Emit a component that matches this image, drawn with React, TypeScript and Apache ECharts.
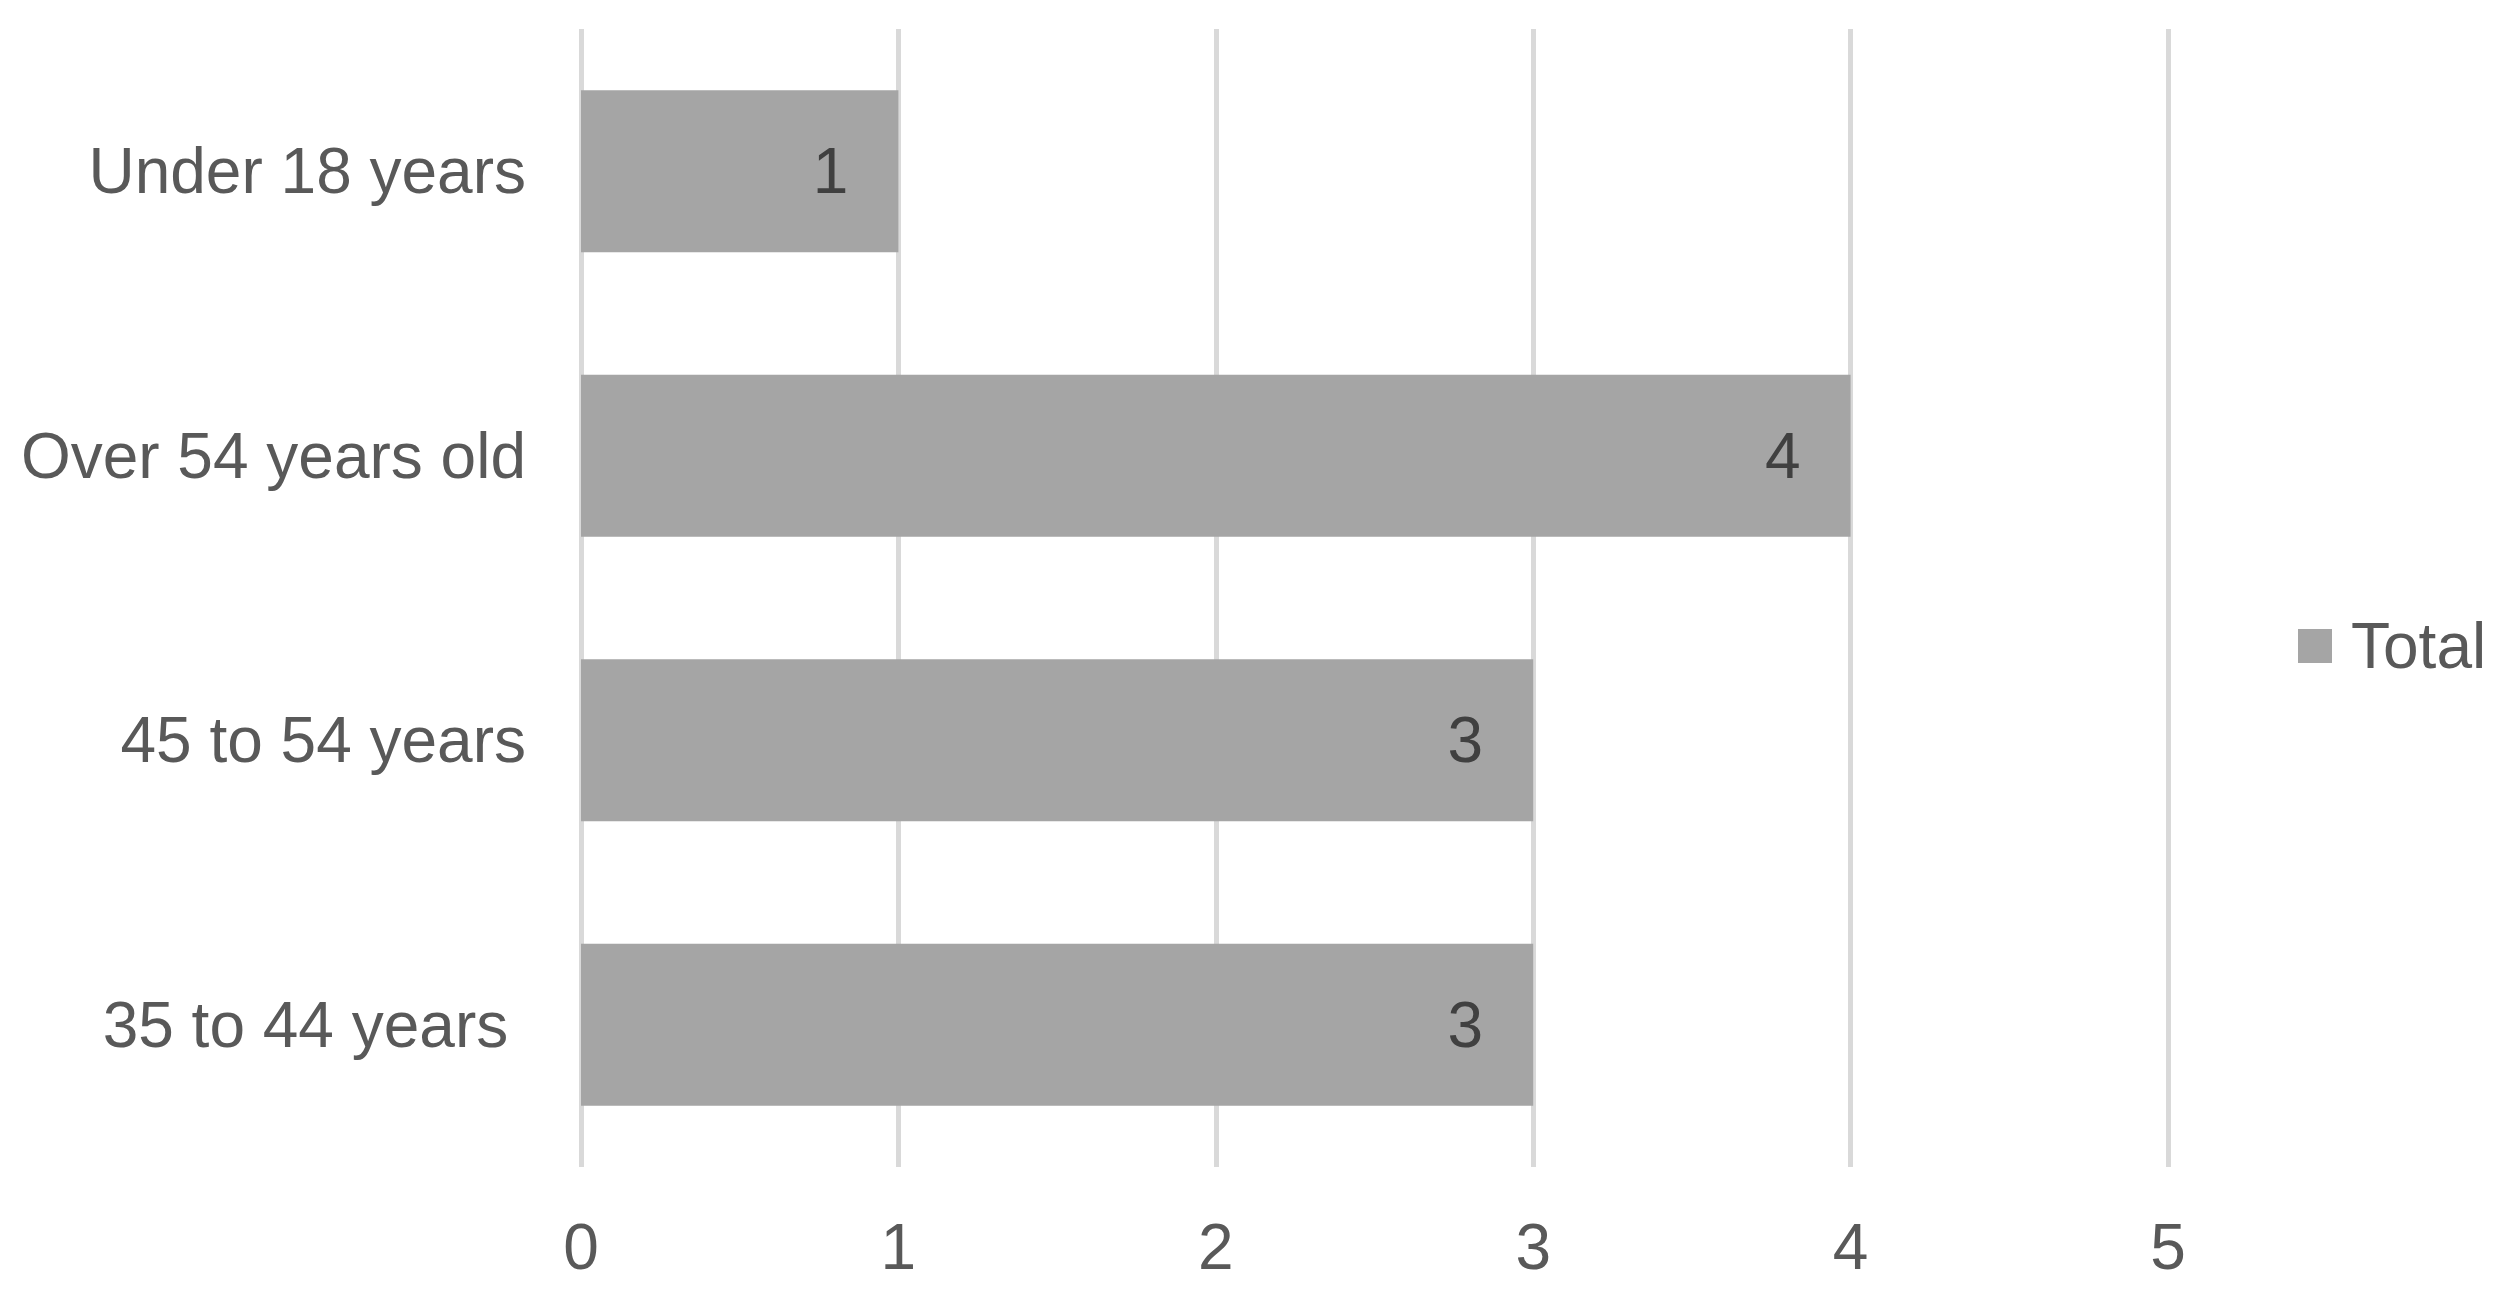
import React, { useEffect, useRef } from "react";
import * as echarts from "echarts";

const categories = ["35 to 44 years ", "45 to 54 years", "Over 54 years old", "Under 18 years"];
const totals = [3, 3, 4, 1];
const xTicks = [0, 1, 2, 3, 4, 5];
const seriesName = "Total";

export default function App() {
  const ref = useRef<HTMLDivElement>(null);
  useEffect(() => {
    if (!ref.current) return;
    const chart = echarts.init(ref.current, undefined, { renderer: "svg" });
    const font = "'Liberation Sans', Arial, sans-serif";
    chart.setOption({
      animation: false,
      backgroundColor: "#ffffff",
      textStyle: { fontFamily: font },
      grid: { left: 581, right: 340, top: 29, bottom: 129, containLabel: false },
      legend: {
        data: [seriesName],
        left: 2293,
        top: 609,
        orient: "vertical",
        icon: "rect",
        itemWidth: 34,
        itemHeight: 34,
        textStyle: { fontSize: 64, color: "#595959", fontFamily: font, lineHeight: 64, padding: [0, 0, 0, 14] },
      },
      xAxis: {
        type: "value",
        min: xTicks[0],
        max: xTicks[xTicks.length - 1],
        interval: 1,
        axisLine: { show: false },
        axisTick: { show: false },
        axisLabel: { fontSize: 64, color: "#595959", margin: 48, fontFamily: font },
        splitLine: { show: true, lineStyle: { color: "#d9d9d9", width: 5 } },
      },
      yAxis: {
        type: "category",
        data: categories,
        axisLine: { show: false },
        axisTick: { show: false },
        axisLabel: { fontSize: 64, color: "#595959", margin: 55, fontFamily: font },
        splitLine: { show: false },
      },
      series: [
        {
          name: seriesName,
          type: "bar",
          data: totals,
          barWidth: "57%",
          itemStyle: { color: "#a5a5a5" },
          label: {
            show: true,
            position: "insideRight",
            distance: 50,
            fontSize: 64,
            color: "#404040",
            fontFamily: font,
          },
        },
      ],
    });
    return () => chart.dispose();
  }, []);
  return <div ref={ref} style={{ position: "fixed", left: 0, top: 0, width: 2508, height: 1296 }} />;
}
